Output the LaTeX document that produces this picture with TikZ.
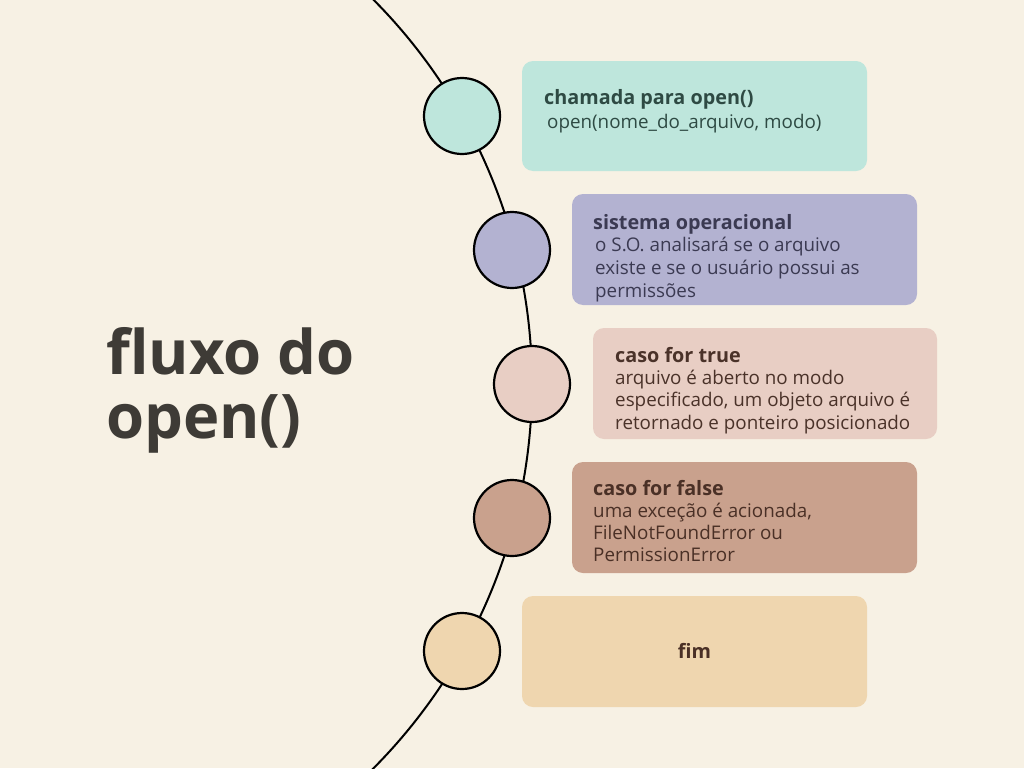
\documentclass[tikz,border=0pt]{standalone}
\usepackage{fontspec}
\setmainfont{Open Sans}
\definecolor{bg}{HTML}{F7F1E4}
\definecolor{cA}{HTML}{BEE6DC}
\definecolor{cB}{HTML}{B3B2D1}
\definecolor{cC}{HTML}{E8CEC4}
\definecolor{cD}{HTML}{C9A18D}
\definecolor{cE}{HTML}{EFD6AF}
\definecolor{titlec}{HTML}{3E3B36}
\definecolor{tA}{HTML}{2E4A43}
\definecolor{tB}{HTML}{3B3A52}
\definecolor{tC}{HTML}{4A3229}
\definecolor{tD}{HTML}{4A3026}
\definecolor{tE}{HTML}{4A3026}
\tikzset{
  dot/.style={circle, draw=black, line width=2.2pt, minimum size=76pt, inner sep=0pt},
  card/.style={rounded corners=11pt, draw=none},
  head/.style={anchor=base west, inner sep=0pt, font=\fontsize{19.8}{22}\selectfont\bfseries},
  body/.style={anchor=base west, inner sep=0pt, font=\fontsize{18.8}{21}\selectfont},
}
\begin{document}
\begin{tikzpicture}[x=1pt,y=-1pt]
\fill[bg] (0,0) rectangle (1024,768);
\useasboundingbox (0,0) rectangle (1024,768);
\begin{scope}
\clip (0,0) rectangle (1024,768);
\draw[line width=2pt] (-13,384) circle [radius=545pt];
\end{scope}
% cards
\fill[card, cA] (522,61) rectangle (867,171);
\fill[card, cB] (572,194) rectangle (917,305);
\fill[card, cC] (593,328) rectangle (937,439);
\fill[card, cD] (572,462) rectangle (917,573);
\fill[card, cE] (522,596) rectangle (867,707);
% circles
\node[dot, fill=cA] (c1) at (462,116) {};
\node[dot, fill=cB] (c2) at (512,250) {};
\node[dot, fill=cC] (c3) at (532,384) {};
\node[dot, fill=cD] (c4) at (512,518) {};
\node[dot, fill=cE] (c5) at (462,651) {};
% title
\node[anchor=base west, inner sep=0pt, text=titlec, font=\fontsize{61.5}{64}\selectfont\bfseries] (t1) at (106,374) {fluxo do};
\node[anchor=base west, inner sep=0pt, text=titlec, font=\fontsize{61.5}{64}\selectfont\bfseries] (t2) at (106,438) {open()};
% texts box1
\node[head, text=tA] (h1) at (544,104) {chamada para open()};
\node[body, text=tA] (l11) at (547,128) {open(nome\_do\_arquivo, modo)};
% box2
\node[head, text=tB] (h2) at (593,229) {sistema operacional};
\node[body, text=tB] (l21) at (595,251) {o S.O. analisará se o arquivo};
\node[body, text=tB] (l22) at (595,274) {existe e se o usuário possui as};
\node[body, text=tB] (l23) at (595,297) {permissões};
% box3
\node[head, text=tC] (h3) at (615,362) {caso for true};
\node[body, text=tC] (l31) at (615,384) {arquivo é aberto no modo};
\node[body, text=tC] (l32) at (615,406) {especificado, um objeto arquivo é};
\node[body, text=tC] (l33) at (615,429) {retornado e ponteiro posicionado};
% box4
\node[head, text=tD] (h4) at (593,495) {caso for false};
\node[body, text=tD] (l41) at (593,517) {uma exceção é acionada,};
\node[body, text=tD] (l42) at (593,539) {FileNotFoundError ou};
\node[body, text=tD] (l43) at (593,561) {PermissionError};
% box5
\node[anchor=base, inner sep=0pt, text=tE, font=\fontsize{19.8}{22}\selectfont\bfseries] (h5) at (694.5,658) {fim};
\end{tikzpicture}
\end{document}
